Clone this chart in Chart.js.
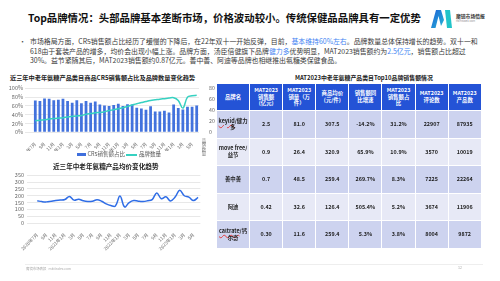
<!DOCTYPE html>
<html><head><meta charset="utf-8">
<script src="https://cdn.jsdelivr.net/npm/chart.js@4.4.0/dist/chart.umd.min.js"></script>
<style>
html,body{margin:0;padding:0;width:500px;height:281px;overflow:hidden;background:#fff;font-family:"Noto Sans CJK SC","Noto Sans",sans-serif;}
.abs{position:absolute;white-space:nowrap;}
#title{left:28px;top:12px;font-size:10.4px;font-weight:bold;color:#111;line-height:12px;}
#bullet{left:19px;top:37px;font-size:7px;color:#444;line-height:9.7px;}
#body{left:30px;top:37px;font-size:6.9px;color:#3a3a3a;line-height:9.7px;}
.b{color:#3d7ff2;}
.ct{font-size:6.2px;font-weight:bold;color:#222;line-height:8px;}
.lg{font-size:5.5px;color:#555;line-height:7px;}
canvas{position:absolute;}
#tbl{position:absolute;left:216px;top:83px;border-collapse:collapse;table-layout:fixed;}
#tbl td{border:1px solid #fff;text-align:center;vertical-align:middle;font-weight:bold;font-size:5.4px;line-height:6.6px;padding:0;color:#1e1e1e;overflow:hidden;}
#tbl tr.h td{background:#2453d6;color:#fff;height:26px;}
#tbl tr.o td{background:#cdd3ef;height:26.6px;}
#tbl tr.e td{background:#e7e9f6;height:26.6px;}
.sq{text-decoration:underline wavy #e23b3b;text-decoration-thickness:0.5px;}
#ytitle{left:201px;top:138px;font-size:4.4px;color:#777;writing-mode:vertical-rl;text-orientation:upright;line-height:5px;}
</style></head><body>
<div class="abs" id="title">Top品牌情况：头部品牌基本垄断市场，价格波动较小。传统保健品品牌具有一定优势</div>
<svg class="abs" style="left:428px;top:8px" width="28" height="24" viewBox="0 0 28 24">
<defs><linearGradient id="g1" x1="0" y1="0" x2="1" y2="1"><stop offset="0" stop-color="#1d5fd6"/><stop offset="1" stop-color="#27b6d6"/></linearGradient></defs>
<polygon points="3,20 8,2 13,2 16,12 13,18 10.5,8 7.5,20" fill="url(#g1)"/>
<polygon points="17,2 22,2 24,20 19,20" fill="#22c4c9"/>
</svg>
<div class="abs" style="left:456px;top:12px;font-size:4.8px;font-weight:bold;color:#333;">魔镜市场情报</div>
<div class="abs" style="left:456px;top:19px;font-size:2.6px;color:#888;">MKTINDEX.COM</div>
<div class="abs" id="bullet">•</div>
<div class="abs" id="body">市场格局方面，CR5销售额占比经历了缓慢的下降后，在22年双十一开始反弹，目前，<span class="b">基本维持60%左右</span>。品牌数量总体保持增长的趋势。双十一和<br>618由于套装产品的增多，均价会出现小幅上涨。品牌方面，汤臣倍健旗下品牌<span class="b">健力多</span>优势明显，MAT2023销售额约为<span class="b">2.5亿元</span>，销售额占比超过<br>30%。益节紧随其后，MAT2023销售额约0.87亿元。善中善、阿迪等品牌也相继推出氨糖类保健食品。</div>

<div class="abs ct" style="left:10px;top:74px;">近三年中老年氨糖产品类目商品CR5销售额占比及品牌数量变化趋势</div>
<canvas id="c1" width="215" height="68" style="left:0px;top:83px;"></canvas>
<div class="abs" id="ytitle">品牌数量</div>
<div class="abs" style="left:77px;top:153px;width:8.5px;height:3px;background:#3f6fdc;"></div>
<div class="abs lg" id="lg1" style="left:87.5px;top:151px;"></div>
<div class="abs" style="left:126px;top:154px;width:11px;height:1.5px;background:#36d1c1;"></div>
<div class="abs lg" id="lg2" style="left:139px;top:151px;"></div>

<div class="abs ct" style="left:53px;top:162px;font-size:6.6px;">近三年中老年氨糖产品均价变化趋势</div>
<canvas id="c2" width="203" height="82" style="left:0px;top:169px;"></canvas>

<div class="abs ct" style="left:295px;top:74px;font-size:5.9px;">MAT2023中老年氨糖产品类目Top10品牌销售额情况</div>
<table id="tbl"></table>

<div class="abs" style="left:25px;top:264px;width:458px;height:1px;background:#eeeeee;"></div>
<div class="abs" style="left:26px;top:266px;font-size:3.4px;color:#aaa;">魔镜市场情报&nbsp;&nbsp;&nbsp;mktindex.com</div>
<div class="abs" style="left:458px;top:265px;font-size:3.6px;color:#aaa;">12</div>

<script>
// ---- chart data ----
const months = ['2020年7月','8月','9月','10月','11月','12月',
  '2021年1月','2月','3月','4月','5月','6月','7月','8月','9月','10月','11月','12月',
  '2022年1月','2月','3月','4月','5月','6月','7月','8月','9月','10月','11月','12月',
  '2023年1月','2月','3月','4月','5月','6月'];
const seriesNames = ['CR5销售额占比','品牌数量'];
const cr5Share = [72,71,77,76,73,74,76,71,67,73,66,71,67,70,63,61,60,62,65,60,64,63,56,54,51,59,47,47,49,45,63,55,52,58,58,61];
const brandCount = [210,218,228,240,250,258,265,280,290,298,305,330,340,355,362,375,395,410,428,448,470,495,520,540,560,578,590,602,612,622,630,580,440,640,665,672];
const avgPrice = [163,157,155,160,165,168,172,195,168,175,163,158,160,170,160,140,128,125,198,118,150,165,160,158,163,172,220,178,192,162,190,240,200,190,165,188];

// ---- table data ----
const tableHeaders = ['品牌名','MAT2023<br>销售额<br>(亿元)','MAT2023<br>销量（万<br>件）','商品均价<br>(元/件)','销售额同<br>比增速','MAT2023<br>销售额占<br>比','MAT2023<br>评论数','MAT2023<br>产品数'];
const brands = ['<span class="sq">keylid</span>/健力<br>多','move free/<br>益节','善中善','阿迪','<span class="sq">caltrate</span>/钙<br>尔奇'];
const salesYi = ['2.5','0.9','0.7','0.42','0.30'];
const volumeWan = ['81.0','26.4','48.5','32.6','11.6'];
const unitPrice = ['307.5','320.9','259.4','126.4','259.4'];
const salesGrowth = ['-14.2%','65.9%','269.7%','505.4%','5.3%'];
const salesShare = ['31.2%','10.9%','8.3%','5.2%','3.8%'];
const reviews = ['22907','3570','7225','3674','8004'];
const products = ['87935','10019','22264','11906','9872'];

(function(){
  const t = document.getElementById('tbl');
  let html = '<colgroup>' + tableHeaders.map(()=> '<col style="width:33.1px">').join('') + '</colgroup>';
  html += '<tr class="h">' + tableHeaders.map(h=>'<td>'+h+'</td>').join('') + '</tr>';
  brands.forEach((b,i)=>{
    const cls = i%2===0 ? 'o' : 'e';
    const cells = [b, salesYi[i], volumeWan[i], unitPrice[i], salesGrowth[i], salesShare[i], reviews[i], products[i]];
    html += '<tr class="'+cls+'">' + cells.map(c=>'<td>'+c+'</td>').join('') + '</tr>';
  });
  t.innerHTML = html;
  document.getElementById('lg1').textContent = seriesNames[0];
  document.getElementById('lg2').textContent = seriesNames[1];
})();

const FONT = '"Noto Sans CJK SC","Noto Sans",sans-serif';
Chart.defaults.font.family = FONT;
Chart.defaults.color = '#666';
const tickCb = (v,i) => (i % 2 === 0 ? months[i] : '');

new Chart(document.getElementById('c1'), {
  data: {
    labels: months,
    datasets: [
      {type:'bar', label:seriesNames[0], data:cr5Share, backgroundColor:'#4272dd', yAxisID:'y', order:1, categoryPercentage:0.6, barPercentage:1},
      {type:'line', label:seriesNames[1], data:brandCount, borderColor:'#36d1c1', borderWidth:1.5, pointRadius:0, tension:0.4, yAxisID:'y1', order:0}
    ]
  },
  options: {
    responsive:false, animation:false, devicePixelRatio:1,
    layout:{padding:0},
    plugins:{tooltip:{enabled:false}, legend:{display:false}},
    scales:{
      x:{grid:{display:false}, border:{display:false},
         ticks:{autoSkip:false, maxRotation:45, minRotation:45, font:{size:4.6}, color:'#666', padding:1, callback:tickCb},
         afterFit:s=>{s.height=18.7;}},
      y:{min:0, max:100, ticks:{autoSkip:false, stepSize:20, callback:v=>v+'%', font:{size:5.5}, color:'#666', padding:2},
         grid:{color:'#e8e8e8'}, border:{display:false}, afterFit:s=>{s.width=33;}},
      y1:{position:'right', min:0, max:800, ticks:{autoSkip:false, stepSize:200, font:{size:5.2}, color:'#666', padding:2},
         grid:{display:false}, border:{display:false}, afterFit:s=>{s.width=16;}}
    }
  }
});

new Chart(document.getElementById('c2'), {
  type:'line',
  data:{labels:months, datasets:[{label:'均价', data:avgPrice, borderColor:'#2f6de6', borderWidth:1.5, pointRadius:0, tension:0.4}]},
  options:{
    responsive:false, animation:false, devicePixelRatio:1,
    layout:{padding:{top:0,left:0,right:2,bottom:0}},
    plugins:{legend:{display:false}, tooltip:{enabled:false}},
    scales:{
      x:{offset:true, grid:{display:false}, border:{display:false},
         ticks:{autoSkip:false, maxRotation:45, minRotation:45, font:{size:4.6}, color:'#666', padding:1, callback:tickCb},
         afterFit:s=>{s.height=28;}},
      y:{min:0, max:350, ticks:{autoSkip:false, stepSize:50, font:{size:5.5}, color:'#666', padding:3},
         grid:{color:'#e8e8e8'}, border:{display:false}, afterFit:s=>{s.width=35;}}
    }
  }
});
</script>
</body></html>
